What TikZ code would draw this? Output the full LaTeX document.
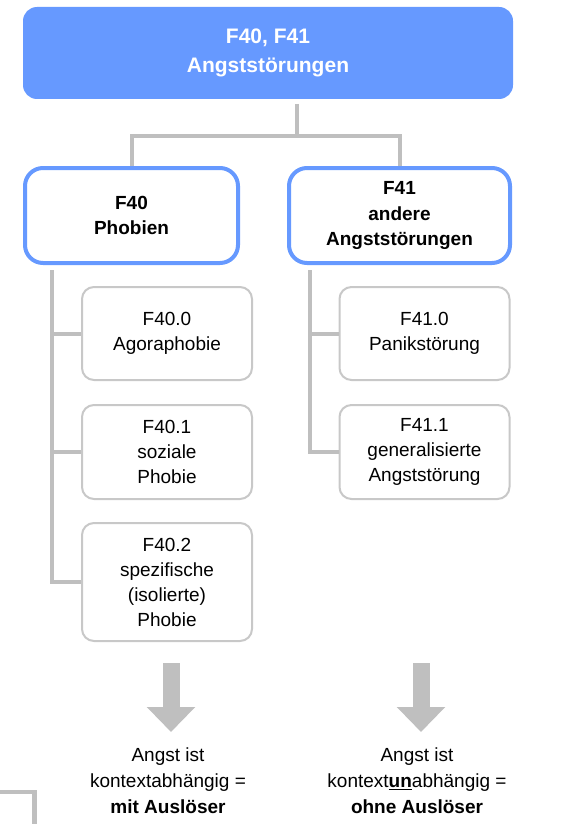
\documentclass[tikz,border=0pt]{standalone}
\usepackage{fontspec}
\setmainfont{Liberation Sans}
\usetikzlibrary{arrows.meta}

\definecolor{fblue}{RGB}{102,153,255}
\definecolor{bgray}{RGB}{200,200,200}
\definecolor{lgray}{RGB}{191,191,191}

\begin{document}
\begin{tikzpicture}[x = 1pt, y = -1pt,
    head/.style = {fill = fblue, rounded corners = 14pt, text = white, align = center, minimum width = 490pt, minimum height = 92pt, font = \fontsize{21}{29}\selectfont\bfseries},
    group/.style = {draw = fblue, line width = 4pt, fill = white, rounded corners = 18pt, align = center, minimum height = 95pt, font = \fontsize{19}{25.5}\selectfont\bfseries},
    sub/.style = {draw = bgray, line width = 2pt, fill = white, rounded corners = 12pt, align = center, minimum width = 170pt, font = \fontsize{19}{25}\selectfont},
    conn/.style = {draw = lgray, line width = 4pt},
    big/.style = {draw = lgray, line width = 17pt, -{Triangle[width = 47pt, length = 25pt]}},
    note/.style = {align = center, font = \fontsize{19}{26}\selectfont}
]
    \useasboundingbox (0, 0) rectangle (580, 824);

    \node[head] (top) at (268, 53){F40, F41\\Angststörungen};

    \node[group, minimum width = 213pt] (F40) at (131.5, 215.5){F40\\Phobien};
    \node[group, minimum width = 221pt] (F41) at (399.5, 215.5){F41\\andere\\Angststörungen};

    \node[sub, minimum height = 93pt] (F400) at (167, 333.5){F40.0\\Agoraphobie};
    \node[sub, minimum height = 94pt] (F401) at (167, 452){F40.1\\soziale\\Phobie};
    \node[sub, minimum height = 118pt] (F402) at (167, 582){F40.2\\spezifische\\(isolierte)\\Phobie};

    \node[sub, minimum height = 93pt] (F410) at (424.5, 333.5){F41.0\\Panikstörung};
    \node[sub, minimum height = 94pt] (F411) at (424.5, 452){F41.1\\generalisierte\\Angststörung};

    % tree lines
    \coordinate (stem) at (297, 104);
    \coordinate (split) at (297, 136);
    \draw[conn] (stem) -- (split) -| (F40.north);
    \draw[conn] (split) -| (F41.north);

    \coordinate (ltrunk) at (52, 270);
    \draw[conn] (ltrunk) |- (F400.west);
    \draw[conn] (ltrunk) |- (F401.west);
    \draw[conn] (ltrunk) |- (F402.west);

    \coordinate (rtrunk) at (310, 270);
    \draw[conn] (rtrunk) |- (F410.west);
    \draw[conn] (rtrunk) |- (F411.west);

    % conclusions
    \node[note] (lnote) at (168, 781){Angst ist\\kontextabhängig =\\\textbf{mit Auslöser}};
    \node[note] (rnote) at (417, 781){Angst ist\\kontext\underline{\textbf{un}}abhängig =\\\textbf{ohne Auslöser}};

    \coordinate (larr) at (171, 663);
    \coordinate (rarr) at (421, 663);
    \draw[big] (larr) -- ++ (0, 69);
    \draw[big] (rarr) -- ++ (0, 69);

    \draw[conn, line width = 4.5pt] (0, 792) -- (34.5, 792) -- (34.5, 824);
\end{tikzpicture}
\end{document}
